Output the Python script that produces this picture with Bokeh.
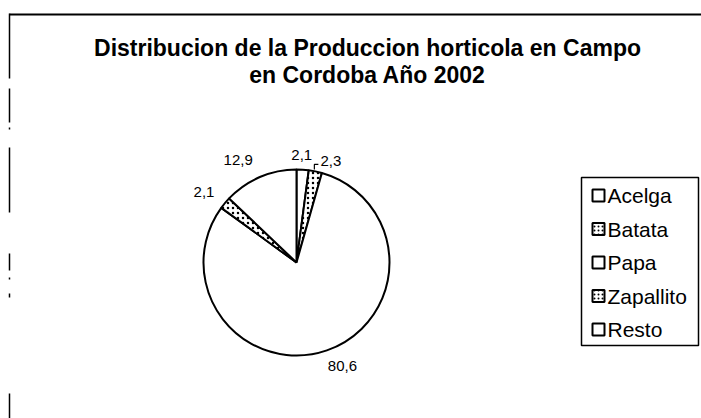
import numpy as np
from bokeh.plotting import figure
from bokeh.models import Range1d, ColumnDataSource
from bokeh.embed import file_html
from bokeh.resources import INLINE
from bokeh.core.properties import value

# ---------------- data ----------------
title_lines = ["Distribucion de la Produccion horticola en Campo",
               "en Cordoba Año 2002"]
categories = ["Acelga", "Batata", "Papa", "Zapallito", "Resto"]
values = [2.1, 2.3, 80.6, 2.1, 12.9]
patterned = [False, True, False, True, False]

# ---------------- layout helpers ----------------
W, H = 701, 418
def Y(py):          # screen pixel y -> data y
    return 418 - py

FONT = value("Liberation Sans")

p = figure(width=W, height=H, x_range=Range1d(0, W), y_range=Range1d(418 - H, 418),
           output_backend="svg", toolbar_location=None, min_border=0)
p.axis.visible = False
p.grid.visible = False
p.outline_line_color = None
p.background_fill_color = "white"
p.border_fill_color = "white"

# chart-area frame (scanned: top line and broken left line)
p.segment(x0=[9], y0=[Y(14)], x1=[701], y1=[Y(14)], line_color="black", line_width=2)
left_pieces = [(13, 78), (88, 122), (127, 129), (147, 212), (253, 270),
               (277, 279), (293, 297), (393, 418)]
p.segment(x0=[9] * len(left_pieces), y0=[Y(a) for a, b in left_pieces],
          x1=[9] * len(left_pieces), y1=[Y(b) for a, b in left_pieces],
          line_color="black", line_width=1.5)

# title
p.text(x=[367, 367], y=[Y(47), Y(74)], text=title_lines, text_align="center",
       text_baseline="middle", text_font=FONT, text_font_size="23px",
       text_font_style="bold", text_color="black")

# ---------------- pie ----------------
cx, cy, r = 296, Y(262), 93
vals = np.array(values, dtype=float)
frac = vals / vals.sum()
cum = np.concatenate([[0.0], np.cumsum(frac)])
start = np.pi / 2 - 2 * np.pi * cum[1:]
end = np.pi / 2 - 2 * np.pi * cum[:-1]
mid = (start + end) / 2

src = ColumnDataSource(dict(start=start, end=end, cat=categories,
                            hatch=["." if h else " " for h in patterned]))
p.wedge(x=cx, y=cy, radius=r, start_angle="start", end_angle="end", source=src,
        fill_color="white", line_color="black", line_width=2,
        hatch_pattern="hatch", hatch_color="black", hatch_scale=5, hatch_weight=1.2)

# data labels
lab_r = 110
nudge = {"Acelga": (-2, -2), "Batata": (12, -6), "Papa": (10, 0),
         "Zapallito": (-8, 0), "Resto": (-15, 1)}
lx, ly, lt = [], [], []
for c, v, a in zip(categories, values, mid):
    dx, dy = nudge[c]
    lx.append(cx + lab_r * np.cos(a) + dx)
    ly.append(cy + lab_r * np.sin(a) + dy)
    lt.append(f"{v:.1f}".replace(".", ","))
p.text(x=lx, y=ly, text=lt, text_align="center", text_baseline="middle",
       text_font=FONT, text_font_size="15px", text_color="black")

# leader line for the small Batata slice
ib = categories.index("Batata")
ex, ey = cx + r * np.cos(mid[ib]), cy + r * np.sin(mid[ib])
p.line(x=[ex - 1, ex - 1, ex + 3], y=[ey + 2, ey + 7, ey + 7], line_color="black", line_width=1.2)

# ---------------- legend ----------------
bx0, bx1, by0, by1 = 581, 698, Y(177), Y(345)
p.quad(left=[bx0], right=[bx1], bottom=[by1], top=[by0], fill_color="white",
       line_color="black", line_width=1.5)
row0, step = 195, 33.5
ry = [Y(row0 + step * i) for i in range(len(categories))]
p.rect(x=[598] * len(categories), y=ry, width=12, height=12, fill_color="white",
       line_color="black", line_width=2,
       hatch_pattern=["." if h else " " for h in patterned], hatch_color="black",
       hatch_scale=4, hatch_weight=1.2)
p.text(x=[607] * len(categories), y=ry, text=categories, text_align="left",
       text_baseline="middle", text_font=FONT, text_font_size="21px", text_color="black")

open("out.html", "w").write(file_html(p, INLINE))
